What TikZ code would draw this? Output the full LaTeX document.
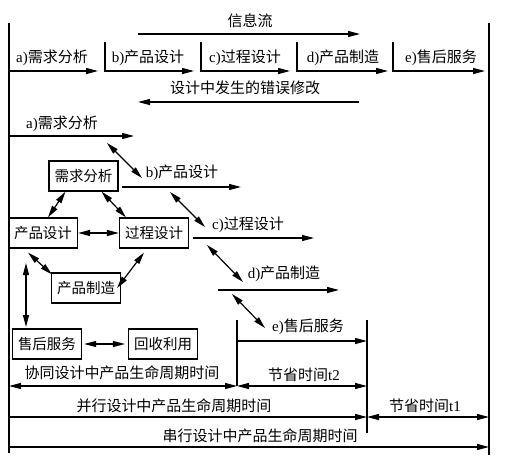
\documentclass[tikz,border=0pt]{standalone}
\usepackage{fontspec}
\setmainfont{Noto Sans CJK SC}
\newfontfamily\lat{Liberation Serif}
\usetikzlibrary{arrows.meta}
\begin{document}
\begin{tikzpicture}[x=1pt,y=-1pt,
  txt/.style={inner sep=0pt,font=\fontsize{15}{17}\selectfont},
  boxn/.style={draw,line width=1.2pt,minimum width=69pt,minimum height=30pt,inner sep=0pt,font=\fontsize{14.5}{16}\selectfont},
  ln/.style={line width=1.2pt},
  arr/.style={line width=1.2pt,-{Triangle[length=12pt,width=6pt]}},
  darr/.style={line width=1.2pt,{Triangle[length=12pt,width=6pt]}-{Triangle[length=12pt,width=6pt]}},
  border/.style={line width=1.8pt}]
\useasboundingbox (0,0) rectangle (523,469);
% borders
\coordinate (L0) at (9,23); \coordinate (L1) at (9,453);
\coordinate (R0) at (489,23); \coordinate (R1) at (489,455);
\draw[border] (L0) -- (L1);
\draw[border] (R0) -- (R1);
% info flow
\node[txt] (info) at (250,21) {信息流};
\coordinate (i0) at (138,34); \coordinate (i1) at (360,34);
\draw[arr] (i0) -- (i1);
% top stages
\coordinate (ta0) at (9,71);  \coordinate (ta1) at (98,71);
\coordinate (tb0) at (105,42); \coordinate (tb1) at (105,71); \coordinate (tb2) at (194,71);
\coordinate (tc0) at (201,42); \coordinate (tc1) at (201,71); \coordinate (tc2) at (290,71);
\coordinate (td0) at (297,42); \coordinate (td1) at (297,71); \coordinate (td2) at (388,71);
\coordinate (te0) at (393,42); \coordinate (te1) at (393,71); \coordinate (te2) at (485,71);
\draw[arr] (ta0) -- (ta1);
\draw[arr] (tb0) -- (tb1) -- (tb2);
\draw[arr] (tc0) -- (tc1) -- (tc2);
\draw[arr] (td0) -- (td1) -- (td2);
\draw[arr] (te0) -- (te1) -- (te2);
\node[txt] (la) at (52,58) {{\lat a)}需求分析};
\node[txt] (lb) at (148,58) {{\lat b)}产品设计};
\node[txt] (lc) at (245,58) {{\lat c)}过程设计};
\node[txt] (ld) at (343,58) {{\lat d)}产品制造};
\node[txt] (le) at (441,58) {{\lat e)}售后服务};
% error feedback
\node[txt] (err) at (245,88) {设计中发生的错误修改};
\coordinate (e0) at (359,102); \coordinate (e1) at (138,102);
\draw[arr] (e0) -- (e1);
% concurrent stages
\node[txt] (sa) at (62,124) {{\lat a)}需求分析};
\coordinate (sa0) at (9,136); \coordinate (sa1) at (134,136);
\draw[arr] (sa0) -- (sa1);
\node[txt] (sb) at (182,173) {{\lat b)}产品设计};
\coordinate (sb0) at (122,187); \coordinate (sb1) at (241,187);
\draw[arr] (sb0) -- (sb1);
\node[txt] (sc) at (248,225) {{\lat c)}过程设计};
\coordinate (sc0) at (193,238); \coordinate (sc1) at (314,238);
\draw[arr] (sc0) -- (sc1);
\node[txt] (sd) at (284,274) {{\lat d)}产品制造};
\coordinate (sd0) at (218,290); \coordinate (sd1) at (339,290);
\draw[arr] (sd0) -- (sd1);
\node[txt] (se) at (308,327) {{\lat e)}售后服务};
\coordinate (se0) at (237,341); \coordinate (se1) at (367,341);
\draw[arr] (se0) -- (se1);
% diagonal links
\coordinate (d1a) at (107,143); \coordinate (d1b) at (142,178);
\coordinate (d2a) at (170,192); \coordinate (d2b) at (205,227);
\coordinate (d3a) at (207,245); \coordinate (d3b) at (243,282);
\coordinate (d4a) at (232,294); \coordinate (d4b) at (265,328);
\draw[darr] (d1a) -- (d1b);
\draw[darr] (d2a) -- (d2b);
\draw[darr] (d3a) -- (d3b);
\draw[darr] (d4a) -- (d4b);
% boxes
\node[boxn] (xq) at (83.5,176) {需求分析};
\node[boxn] (cp) at (43,233) {产品设计};
\node[boxn] (gc) at (154,233) {过程设计};
\node[boxn] (zz) at (86,288) {产品制造};
\node[boxn] (sh) at (47,344) {售后服务};
\node[boxn] (hs) at (163,344) {回收利用};
\draw[darr] ([xshift=-18pt]xq.south) -- ([xshift=5pt]cp.north);
\draw[darr] ([xshift=18pt]xq.south) -- ([xshift=-28pt]gc.north);
\draw[darr] (cp.east) -- (gc.west);
\draw[darr] ([xshift=-15pt,yshift=-4pt]cp.south) -- ([xshift=-34pt,yshift=-2pt]zz.north);
\draw[darr] ([xshift=-10pt,yshift=-4pt]gc.south) -- ([xshift=-4pt]zz.east);
\coordinate (v0) at (26,263); \coordinate (v1) at (26,327);
\draw[darr] (v0) -- (v1);
\draw[darr] ([xshift=2pt]sh.east) -- ([xshift=-3pt]hs.west);
% ticks
\coordinate (k0) at (237,320); \coordinate (k1) at (237,386);
\coordinate (m0) at (367,320); \coordinate (m1) at (367,433);
\draw[ln] (k0) -- (k1);
\draw[ln] (m0) -- (m1);
% bottom times
\node[txt] (xt) at (122,373) {协同设计中产品生命周期时间};
\coordinate (x0) at (9,386); \coordinate (x1) at (237,386);
\draw[darr] (x0) -- (x1);
\node[txt] (t2) at (304,375) {节省时间{\lat t2}};
\coordinate (t20) at (237,386); \coordinate (t21) at (367,386);
\draw[darr] (t20) -- (t21);
\node[txt] (bx) at (174,406) {并行设计中产品生命周期时间};
\coordinate (b0) at (9,417); \coordinate (b1) at (367,417);
\draw[arr] (b0) -- (b1);
\node[txt] (t1) at (425,406) {节省时间{\lat t1}};
\coordinate (t10) at (367,417); \coordinate (t11) at (489,417);
\draw[darr] (t10) -- (t11);
\node[txt] (cx) at (260,436) {串行设计中产品生命周期时间};
\coordinate (c0) at (9,447); \coordinate (c1) at (489,447);
\draw[arr] (c0) -- (c1);
\end{tikzpicture}
\end{document}
